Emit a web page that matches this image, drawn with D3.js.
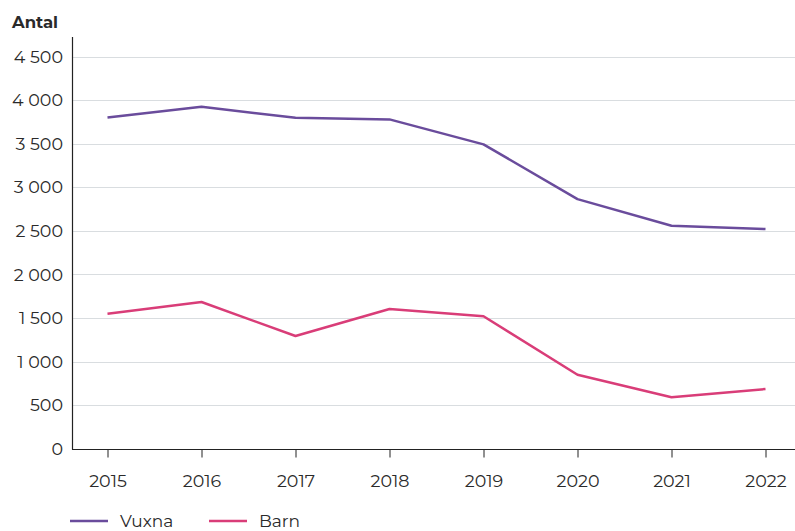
<!DOCTYPE html>
<html lang="sv">
<head>
    <meta charset="UTF-8">
    <title>Antal vuxna och barn</title>
    <script src="https://d3js.org/d3.v7.min.js"></script>
    <style>
        body { margin: 0; background: #fff; }
        text { font-family: "Montserrat", "Open Sans", sans-serif; fill: #2a2a2a; }
        .grid line { stroke: #d9dde0; stroke-width: 1; }
    </style>
</head>
<body>
    <div id="chart"></div>
    <script>
        // Data
        const years = [2015, 2016, 2017, 2018, 2019, 2020, 2021, 2022];
        const vuxna = [3803, 3925, 3799, 3780, 3493, 2865, 2559, 2521];
        const barn = [1549, 1683, 1293, 1603, 1519, 848, 589, 684];
        const yTicks = [0, 500, 1000, 1500, 2000, 2500, 3000, 3500, 4000, 4500];

        const width = 795, height = 531;
        const margin = { top: 57, right: 0, bottom: 82, left: 72 };

        const svg = d3.select("#chart").append("svg")
            .attr("width", width)
            .attr("height", height);

        const x = d3.scalePoint()
            .domain(years)
            .range([107.5, 765.5]);

        const y = d3.scaleLinear()
            .domain([0, 4500])
            .range([448.6, 56.7]);

        const fmt = d => d3.format(",")(d).replace(",", " ");

        // gridlines
        svg.append("g")
            .attr("class", "grid")
            .selectAll("line")
            .data(yTicks.filter(d => d > 0))
            .enter().append("line")
            .attr("x1", margin.left)
            .attr("x2", width)
            .attr("y1", d => Math.round(y(d)) + 0.5)
            .attr("y2", d => Math.round(y(d)) + 0.5);

        // y labels
        svg.append("g")
            .selectAll("text")
            .data(yTicks)
            .enter().append("text")
            .attr("x", 63)
            .attr("y", d => y(d))
            .attr("dy", "0.35em")
            .attr("text-anchor", "end")
            .style("font-size", "17.5px")
            .text(fmt);

        // axes lines
        svg.append("line")
            .attr("x1", margin.left + 0.5).attr("x2", margin.left + 0.5)
            .attr("y1", 37).attr("y2", 449.5)
            .attr("stroke", "#222").attr("stroke-width", 1.2);

        const xAxis = svg.append("g")
            .attr("transform", "translate(0,449.5)")
            .call(d3.axisBottom(x).tickSize(8).tickPadding(17).tickSizeOuter(0));
        xAxis.select(".domain").remove();
        xAxis.append("line")
            .attr("x1", margin.left).attr("x2", width)
            .attr("stroke", "#222").attr("stroke-width", 1.2);
        xAxis.selectAll(".tick line").attr("stroke", "#222");
        xAxis.selectAll("text")
            .style("font-size", "17.5px")
            .style("font-family", "Montserrat, 'Open Sans', sans-serif")
            .attr("fill", "#2a2a2a");

        // title
        svg.append("text")
            .attr("x", 12)
            .attr("y", 28)
            .style("font-size", "16.5px")
            .style("font-weight", "bold")
            .text("Antal");

        const line = d3.line()
            .x((d, i) => x(years[i]))
            .y(d => y(d));

        const series = [
            { name: "Vuxna", values: vuxna, color: "#6a4c9c" },
            { name: "Barn", values: barn, color: "#d93d78" }
        ];

        svg.selectAll(".series")
            .data(series)
            .enter().append("path")
            .attr("class", "series")
            .attr("d", d => line(d.values))
            .attr("fill", "none")
            .attr("stroke", d => d.color)
            .attr("stroke-width", 2.5)
            .attr("stroke-linejoin", "round");

        // legend
        const legend = svg.selectAll(".legend")
            .data(series)
            .enter().append("g")
            .attr("class", "legend")
            .attr("transform", (d, i) => `translate(${70 + i * 139},521)`);
        legend.append("line")
            .attr("x1", 0).attr("x2", 38)
            .attr("stroke", d => d.color)
            .attr("stroke-width", 2.5);
        legend.append("text")
            .attr("x", 50)
            .attr("dy", "0.35em")
            .style("font-size", "17px")
            .text(d => d.name);
    </script>
</body>
</html>
